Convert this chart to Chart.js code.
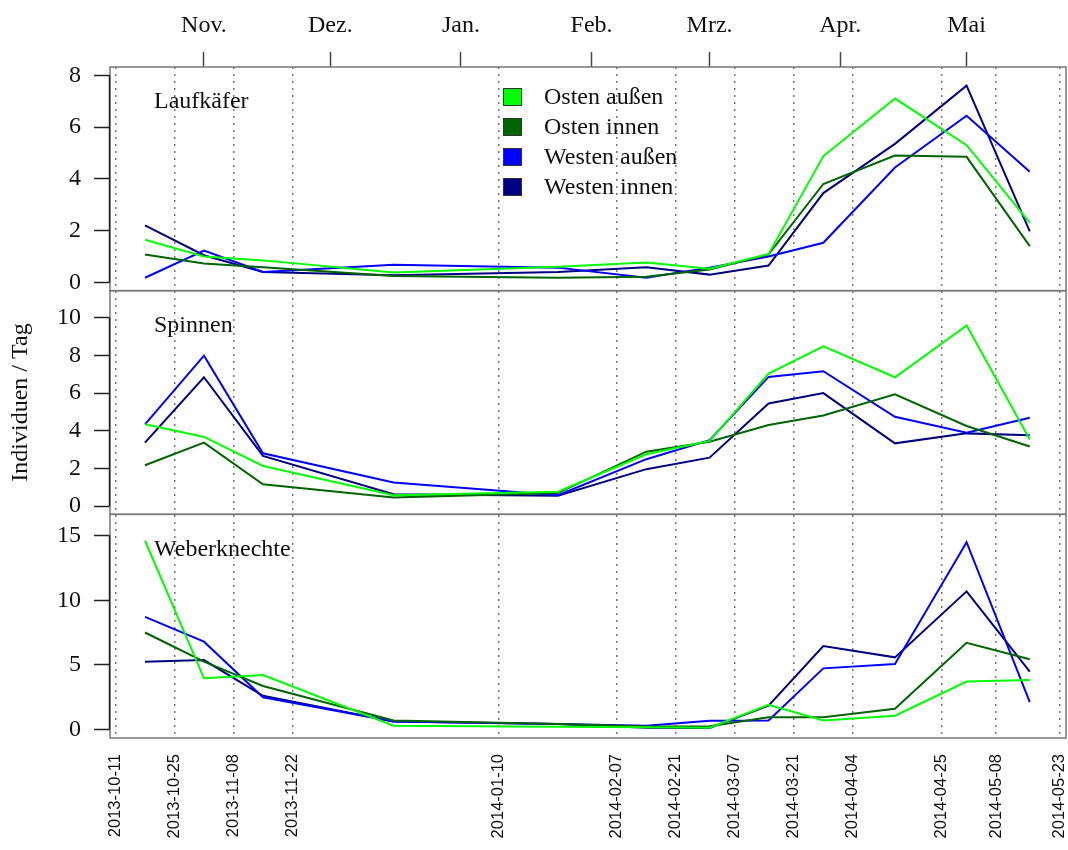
<!DOCTYPE html>
<html>
<head>
<meta charset="utf-8">
<script src="https://cdn.jsdelivr.net/npm/chart.js@4.4.1/dist/chart.umd.min.js"></script>
<style>
  body { margin: 0; background: #fff; }
  #wrap { width: 1068px; height: 850px; }
</style>
</head>
<body>
<div id="wrap"><canvas id="chart" width="1068" height="850"></canvas></div>
<script>
// sampling dates (x values) and axis ticks
const sampleDates = ['2013-10-18', '2013-11-01', '2013-11-15', '2013-12-16', '2014-01-24', '2014-02-14',
                     '2014-03-01', '2014-03-15', '2014-03-28', '2014-04-14', '2014-05-01', '2014-05-16'];
const gridDates = ['2013-10-11', '2013-10-25', '2013-11-08', '2013-11-22', '2014-01-10', '2014-02-07',
                   '2014-02-21', '2014-03-07', '2014-03-21', '2014-04-04', '2014-04-25', '2014-05-08', '2014-05-23'];
const monthStarts = ['2013-11-01', '2013-12-01', '2014-01-01', '2014-02-01', '2014-03-01', '2014-04-01', '2014-05-01'];
const monthLabels = ['Nov.', 'Dez.', 'Jan.', 'Feb.', 'Mrz.', 'Apr.', 'Mai'];

const seriesNames = ['Osten außen', 'Osten innen', 'Westen außen', 'Westen innen'];
const seriesColors = ['#00ff00', '#006400', '#0000ff', '#000080'];

// Laufkäfer
const laufOstenAussen = [1.65, 1.0, 0.85, 0.38, 0.6, 0.77, 0.53, 1.1, 4.88, 7.1, 5.3, 2.3];
const laufOstenInnen = [1.08, 0.73, 0.58, 0.25, 0.18, 0.22, 0.5, 1.08, 3.8, 4.9, 4.85, 1.4];
const laufWestenAussen = [0.18, 1.23, 0.4, 0.68, 0.57, 0.18, 0.57, 1.0, 1.53, 4.44, 6.44, 4.27];
const laufWestenInnen = [2.2, 1.05, 0.4, 0.28, 0.4, 0.58, 0.3, 0.65, 3.45, 5.35, 7.6, 1.97];

// Spinnen
const spinOstenAussen = [4.34, 3.67, 2.13, 0.58, 0.76, 2.75, 3.46, 7.04, 8.48, 6.84, 9.59, 3.54];
const spinOstenInnen = [2.17, 3.37, 1.16, 0.46, 0.69, 2.89, 3.42, 4.3, 4.81, 5.94, 4.25, 3.16];
const spinWestenAussen = [4.34, 7.99, 2.8, 1.25, 0.58, 2.49, 3.5, 6.86, 7.16, 4.74, 3.9, 4.69];
const spinWestenInnen = [3.37, 6.84, 2.66, 0.63, 0.55, 1.96, 2.57, 5.45, 6.0, 3.33, 3.86, 3.76];

// Weberknechte
const webOstenAussen = [14.6, 3.97, 4.23, 0.31, 0.23, 0.2, 0.15, 1.92, 0.72, 1.08, 3.72, 3.85];
const webOstenInnen = [7.51, 5.26, 3.38, 0.72, 0.45, 0.25, 0.26, 0.97, 0.97, 1.62, 6.72, 5.44];
const webWestenAussen = [8.72, 6.8, 2.51, 0.64, 0.45, 0.3, 0.69, 0.72, 4.74, 5.08, 14.49, 2.13];
const webWestenInnen = [5.26, 5.38, 2.62, 0.64, 0.45, 0.15, 0.13, 1.85, 6.46, 5.59, 10.69, 4.49];

const panels = [
    { id: 'yL', title: 'Laufkäfer', ticks: [0, 2, 4, 6, 8], min: -0.32, max: 8.32,
      series: [laufOstenAussen, laufOstenInnen, laufWestenAussen, laufWestenInnen] },
    { id: 'yS', title: 'Spinnen', ticks: [0, 2, 4, 6, 8, 10], min: -0.44, max: 11.44,
      series: [spinOstenAussen, spinOstenInnen, spinWestenAussen, spinWestenInnen] },
    { id: 'yW', title: 'Weberknechte', ticks: [0, 5, 10, 15], min: -0.64, max: 16.64,
      series: [webOstenAussen, webOstenInnen, webWestenAussen, webWestenInnen] }
];

// days since 2013-10-11
const origin = Date.parse('2013-10-11');
function day(s) {
    return (Date.parse(s) - origin) / 864e5;
}

const SERIF = '"Liberation Serif", "Times New Roman", serif';
const X_MIN = -1.3, X_MAX = 225.6;

const datasets = [];
panels.forEach(p => {
    p.series.forEach((vals, i) => {
        datasets.push({
            label: seriesNames[i],
            yAxisID: p.id,
            data: vals.map((v, k) => ({ x: day(sampleDates[k]), y: v })),
            borderColor: seriesColors[i],
            backgroundColor: seriesColors[i],
            borderWidth: 2,
            pointRadius: 0,
            tension: 0
        });
    });
});

function noPad(s) {
    s.paddingLeft = 0;
    s.paddingRight = 0;
    s.paddingTop = 0;
    s.paddingBottom = 0;
}

function yScale(p, withTitle) {
    return {
        type: 'linear',
        position: 'left',
        stack: 'panels',
        min: p.min,
        max: p.max,
        afterBuildTicks: s => { s.ticks = p.ticks.map(v => ({ value: v })); },
        afterFit: s => { s.width = 110; noPad(s); },
        grid: { drawOnChartArea: false, drawTicks: true, tickLength: 16, tickColor: '#222', tickWidth: 1.5 },
        border: { display: false },
        ticks: { font: { family: SERIF, size: 24 }, color: '#111', padding: 13, autoSkip: false },
        title: withTitle ? { display: true, text: 'Individuen / Tag', font: { family: SERIF, size: 24 },
                             color: '#111', padding: { top: 6, bottom: 0 } } : { display: false }
    };
}

// boxes, axis lines, panel titles and legend
const decorations = {
    id: 'decorations',
    afterDraw(chart) {
        const ctx = chart.ctx;
        const area = chart.chartArea;
        ctx.save();
        panels.forEach(p => {
            const s = chart.scales[p.id];
            ctx.strokeStyle = '#777';
            ctx.lineWidth = 1.5;
            ctx.strokeRect(area.left, s.top, area.right - area.left, s.bottom - s.top);
            ctx.strokeStyle = '#222';
            ctx.beginPath();
            ctx.moveTo(area.left - 0.5, s.getPixelForValue(p.ticks[0]));
            ctx.lineTo(area.left - 0.5, s.getPixelForValue(p.ticks[p.ticks.length - 1]));
            ctx.stroke();
            ctx.fillStyle = '#111';
            ctx.font = '24px ' + SERIF;
            ctx.textBaseline = 'middle';
            ctx.textAlign = 'left';
            ctx.fillText(p.title, 154, s.top + 35);
        });
        // legend
        seriesNames.forEach((name, i) => {
            const y = 97 + i * 30;
            ctx.fillStyle = seriesColors[i];
            ctx.fillRect(503, y - 9, 19, 18);
            ctx.strokeStyle = '#333';
            ctx.lineWidth = 1;
            ctx.strokeRect(503.5, y - 8.5, 18, 17);
            ctx.fillStyle = '#111';
            ctx.font = '24px ' + SERIF;
            ctx.textBaseline = 'middle';
            ctx.fillText(name, 544, y + 1);
        });
        ctx.restore();
    }
};

new Chart(document.getElementById('chart'), {
    type: 'line',
    data: { datasets },
    plugins: [decorations],
    options: {
        responsive: false,
        animation: false,
        devicePixelRatio: 1,
        layout: { padding: { top: 0, right: 2, bottom: 0, left: 0 } },
        plugins: { legend: { display: false }, tooltip: { enabled: false } },
        scales: {
            x: {
                type: 'linear',
                position: 'bottom',
                min: X_MIN,
                max: X_MAX,
                afterBuildTicks: s => { s.ticks = gridDates.map(d => ({ value: day(d) })); },
                afterFit: s => { s.height = 112; noPad(s); },
                grid: { color: '#777', lineWidth: 1.5, drawTicks: false },
                border: { display: false, dash: [2, 5] },
                ticks: {
                    callback: (v, i) => gridDates[i],
                    minRotation: 90, maxRotation: 90, autoSkip: false,
                    font: { family: '"Liberation Sans", Arial, sans-serif', size: 16.5 },
                    color: '#111', padding: 16
                }
            },
            x2: {
                type: 'linear',
                position: 'top',
                min: X_MIN,
                max: X_MAX,
                afterBuildTicks: s => { s.ticks = monthStarts.map(d => ({ value: day(d) })); },
                afterFit: s => { s.height = 67; noPad(s); },
                grid: { drawOnChartArea: false, drawTicks: true, tickLength: 15, tickColor: '#444', tickWidth: 1.5 },
                border: { display: false },
                ticks: {
                    callback: (v, i) => monthLabels[i],
                    maxRotation: 0, autoSkip: false,
                    font: { family: SERIF, size: 24 }, color: '#111', padding: 12
                }
            },
            yW: yScale(panels[2], false),
            yS: yScale(panels[1], true),
            yL: yScale(panels[0], false)
        }
    }
});
</script>
</body>
</html>
